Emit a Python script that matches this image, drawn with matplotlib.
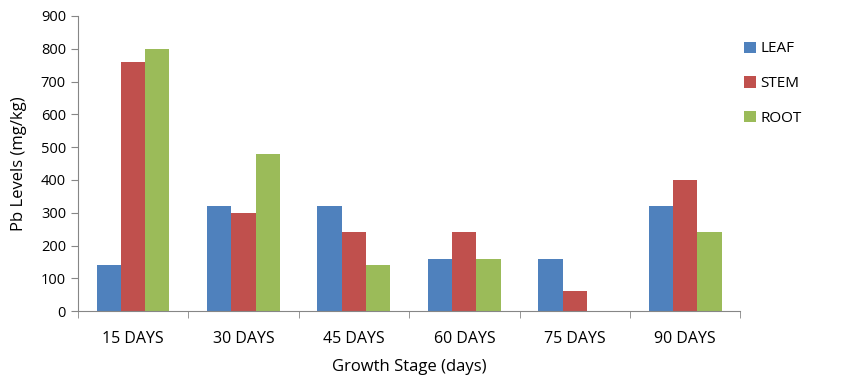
import numpy as np
import matplotlib.pyplot as plt

# data
stages = ["15 DAYS", "30 DAYS", "45 DAYS", "60 DAYS", "75 DAYS", "90 DAYS"]
leaf = [140, 320, 320, 160, 160, 320]
stem = [760, 300, 240, 240, 60, 400]
root = [800, 480, 140, 160, 0, 240]

series_names = ["LEAF", "STEM", "ROOT"]
colors = ["#4F81BD", "#C0504D", "#9BBB59"]

plt.rcParams['font.family'] = ['Open Sans', 'DejaVu Sans']

fig = plt.figure(figsize=(8.55, 3.79), dpi=100)
ax = fig.add_axes([0.091, 0.179, 0.775, 0.779])

x = np.arange(len(stages))
width = 0.22
for i, (vals, name, col) in enumerate(zip([leaf, stem, root], series_names, colors)):
    ax.bar(x + (i - 1) * width, vals, width, color=col, label=name)

ax.set_xlim(-0.5, len(stages) - 0.5)
ax.set_ylim(0, 900)
ax.set_yticks(range(0, 901, 100))
ax.set_xticks(x)
ax.set_xticklabels(stages)
ax.set_xticks(np.arange(-0.5, len(stages)), minor=True)
ax.tick_params(axis='x', which='major', length=0, pad=14, labelsize=11.5)
ax.tick_params(axis='x', which='minor', length=5, color='#868686', direction='out')
ax.tick_params(axis='y', length=5, color='#868686', direction='out', labelsize=10.5)

for s in ['top', 'right']:
    ax.spines[s].set_visible(False)
for s in ['left', 'bottom']:
    ax.spines[s].set_color('#868686')

ax.set_xlabel("Growth Stage (days)", fontsize=12, labelpad=9)
ax.set_ylabel("Pb Levels (mg/kg)", fontsize=12, labelpad=10)

ax.legend(loc='upper left', bbox_to_anchor=(0.985, 0.96), frameon=False,
          fontsize=11, handlelength=0.75, handleheight=0.75, labelspacing=1.3,
          handletextpad=0.3)

fig.savefig("out.png", dpi=100)
